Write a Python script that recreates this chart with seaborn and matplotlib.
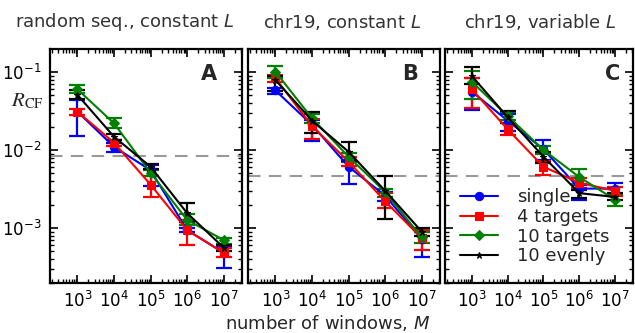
import numpy as np
import pandas as pd
import matplotlib
matplotlib.use('Agg')
import matplotlib.pyplot as plt
import seaborn as sns
from matplotlib.ticker import LogLocator, NullFormatter

M = [1e3, 1e4, 1e5, 1e6, 1e7]
series = ['single', '4 targets', '10 targets', '10 evenly']
titles = ['random seq., constant $L$', 'chr19, constant $L$', 'chr19, variable $L$']
letters = ['A', 'B', 'C']
baselines = [0.0085, 0.0047, 0.0047]

# rows follow `series`
A_mean = [[0.031, 0.011, 0.0055, 0.00094, 0.00048],
          [0.031, 0.0124, 0.0036, 0.00094, 0.00048],
          [0.060, 0.022, 0.0051, 0.00127, 0.0007],
          [0.051, 0.0148, 0.0061, 0.00155, 0.00056]]
A_lo = [[0.015, 0.0093, 0.0035, 0.00088, 0.00031],
        [0.028, 0.0113, 0.0025, 0.0006, 0.00042],
        [0.054, 0.019, 0.0046, 0.0011, 0.00063],
        [0.045, 0.0135, 0.0057, 0.0012, 0.00051]]
A_hi = [[0.044, 0.0124, 0.0064, 0.001, 0.00059],
        [0.034, 0.0135, 0.0046, 0.00127, 0.00056],
        [0.068, 0.026, 0.0056, 0.0015, 0.00074],
        [0.059, 0.0162, 0.0066, 0.0021, 0.00061]]

B_mean = [[0.058, 0.021, 0.0061, 0.0026, 0.00072],
          [0.083, 0.0203, 0.0071, 0.0022, 0.00074],
          [0.101, 0.0255, 0.0082, 0.0029, 0.00076],
          [0.079, 0.0238, 0.0095, 0.003, 0.0009]]
B_lo = [[0.053, 0.013, 0.0037, 0.0022, 0.00042],
        [0.075, 0.014, 0.0062, 0.0018, 0.00052],
        [0.085, 0.022, 0.007, 0.0025, 0.00065],
        [0.057, 0.0163, 0.0072, 0.0013, 0.00078]]
B_hi = [[0.063, 0.024, 0.0075, 0.0029, 0.0009],
        [0.092, 0.025, 0.0082, 0.0028, 0.00095],
        [0.12, 0.029, 0.0092, 0.0032, 0.00088],
        [0.089, 0.031, 0.0128, 0.0047, 0.00101]]

C_mean = [[0.056, 0.0238, 0.0102, 0.0032, 0.0032],
          [0.060, 0.0184, 0.0061, 0.0038, 0.003],
          [0.075, 0.0273, 0.01, 0.0045, 0.0023],
          [0.089, 0.0263, 0.0082, 0.0028, 0.0025]]
C_lo = [[0.033, 0.0175, 0.0075, 0.0023, 0.0027],
        [0.035, 0.0154, 0.0048, 0.0033, 0.0026],
        [0.045, 0.024, 0.0088, 0.0037, 0.0019],
        [0.07, 0.022, 0.0069, 0.0024, 0.0023]]
C_hi = [[0.085, 0.029, 0.0134, 0.0036, 0.0038],
        [0.085, 0.022, 0.0072, 0.0044, 0.0034],
        [0.104, 0.031, 0.0112, 0.0057, 0.0027],
        [0.117, 0.032, 0.0095, 0.0031, 0.0028]]

colors = {'single': 'blue', '4 targets': 'red', '10 targets': 'green', '10 evenly': 'black'}
markers = {'single': 'o', '4 targets': 's', '10 targets': 'D', '10 evenly': '*'}
msizes = {'single': 6, '4 targets': 6, '10 targets': 5.5, '10 evenly': 4.5}

# long-form table
rows = []
for panel, (mean, lo, hi) in zip(letters, [(A_mean, A_lo, A_hi), (B_mean, B_lo, B_hi), (C_mean, C_lo, C_hi)]):
    for i, s in enumerate(series):
        for j, m in enumerate(M):
            rows.append([panel, s, m, mean[i][j], lo[i][j], hi[i][j]])
df = pd.DataFrame(rows, columns=['panel', 'series', 'M', 'R', 'lo', 'hi'])

sns.set_style('ticks')
plt.rcParams['font.family'] = ['DejaVu Sans']
plt.rcParams.update({
    'xtick.direction': 'in', 'ytick.direction': 'in',
    'xtick.top': True, 'ytick.right': True,
    'xtick.major.size': 6, 'ytick.major.size': 6,
    'xtick.minor.size': 3, 'ytick.minor.size': 3,
    'xtick.major.width': 1.2, 'ytick.major.width': 1.2,
    'xtick.minor.width': 1.0, 'ytick.minor.width': 1.0,
    'axes.linewidth': 1.6, 'axes.edgecolor': 'black',
    'xtick.color': 'black', 'ytick.color': 'black',
})

fig = plt.figure(figsize=(6.35, 3.33), dpi=100)
W, H = 635, 333
boxes = [(50, 242), (248, 440), (445, 633)]
letter_x = [0.87, 0.885, 0.93]
title_x = [125, 342, 540]
top, bottom = 49, 283
axes = []
for (l, r) in boxes:
    axes.append(fig.add_axes([l / W, 1 - bottom / H, (r - l) / W, (bottom - top) / H]))

for k, ax in enumerate(axes):
    d = df[df['panel'] == letters[k]]
    ax.set_xscale('log')
    ax.set_yscale('log')
    ax.axhline(baselines[k], color='#999999', lw=1.5, ls=(0, (6, 4)), zorder=1)
    for s in series:
        ds = d[d['series'] == s]
        ax.errorbar(ds['M'], ds['R'], yerr=[ds['R'] - ds['lo'], ds['hi'] - ds['R']],
                    fmt='none', ecolor=colors[s], elinewidth=1.6, capsize=6, capthick=1.6, zorder=3)
        sns.lineplot(data=ds, x='M', y='R', ax=ax, color=colors[s], marker=markers[s],
                     markersize=msizes[s], markeredgecolor=colors[s], lw=1.5, label=s,
                     legend=False, zorder=4)
    ax.set_xlim(10 ** 2.25, 10 ** 7.5)
    ax.set_ylim(10 ** -3.705, 10 ** -0.705)
    ax.xaxis.set_major_locator(LogLocator(base=10, numticks=10))
    ax.xaxis.set_minor_locator(LogLocator(base=10, subs=np.arange(2, 10), numticks=10))
    ax.yaxis.set_minor_locator(LogLocator(base=10, subs=np.arange(2, 10), numticks=10))
    ax.xaxis.set_minor_formatter(NullFormatter())
    ax.yaxis.set_minor_formatter(NullFormatter())
    ax.set_xlabel('')
    ax.set_ylabel('')
    ax.tick_params(labelsize=12, pad=6)
    ax.tick_params(axis='x', pad=6)
    if k > 0:
        ax.tick_params(axis='y', labelleft=False)
    fig.text(title_x[k] / W, 1 - 22 / H, titles[k], fontsize=13, color='#333333',
             ha='center', va='center')
    ax.text(letter_x[k], 0.893, letters[k], transform=ax.transAxes, ha='right', va='center',
            fontsize=15, fontweight='bold')

axes[2].legend(loc='lower left', bbox_to_anchor=(0.08, 0.075), frameon=False, fontsize=13,
               handlelength=2.1, handletextpad=1.05, labelspacing=0.1, borderpad=0, borderaxespad=0)

fig.text(27 / W, 1 - 101 / H, r'$R_{\rm CF}$', fontsize=15, ha='center', va='center', math_fontfamily='stix')
fig.text(328 / W, 1 - 323 / H, 'number of windows, $M$', fontsize=13, ha='center', va='center')

fig.savefig('out.png', dpi=100)
